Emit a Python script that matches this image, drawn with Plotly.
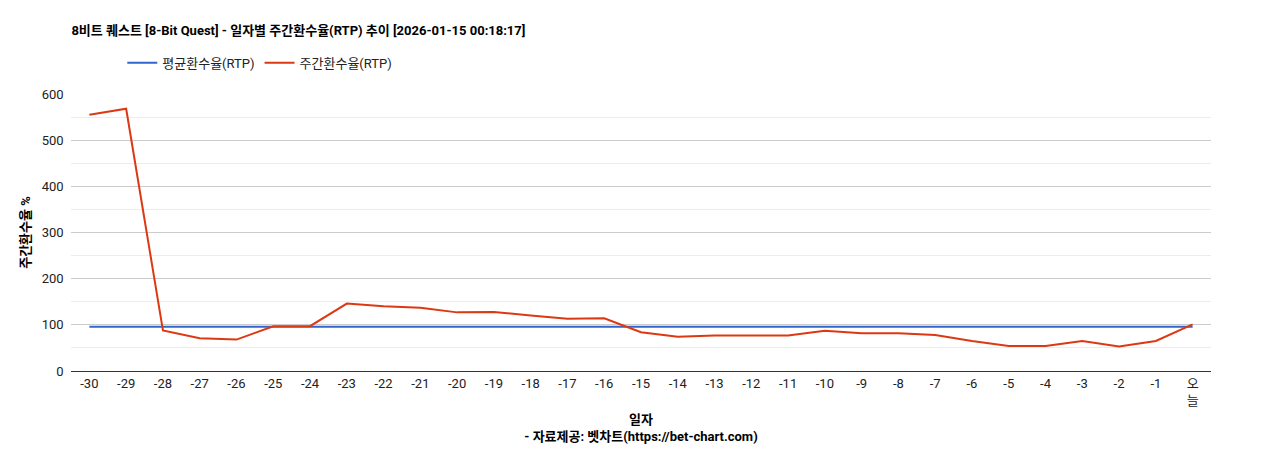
import plotly.graph_objects as go

days = [str(d) for d in range(-30, 0)] + ["오<br>늘"]
weekly_rtp = [555, 568, 88, 71, 68, 97, 97, 146, 140, 137, 127, 128, 120, 113, 114,
              84, 74, 77, 77, 77, 87, 82, 82, 78, 65, 54, 54, 65, 53, 65, 101]
avg_rtp = [96] * len(days)

font = "Roboto, Noto Sans CJK KR"

fig = go.Figure()
fig.add_trace(go.Scatter(x=days, y=avg_rtp, mode="lines", name="평균환수율(RTP)",
                         line=dict(color="#3366cc", width=2)))
fig.add_trace(go.Scatter(x=days, y=weekly_rtp, mode="lines", name="주간환수율(RTP)",
                         line=dict(color="#dc3912", width=2)))

fig.update_layout(
    width=1268, height=450,
    margin=dict(l=63, r=65, t=86, b=87, autoexpand=False),
    plot_bgcolor="white", paper_bgcolor="white",
    font=dict(family=font, size=13, color="#222"),
    title=dict(text="<b>8비트 퀘스트 [8-Bit Quest] - 일자별 주간환수율(RTP) 추이 [2026-01-15 00:18:17]</b>",
               x=0.05, xanchor="left", yref="container", y=0.95, yanchor="middle",
               font=dict(size=13, color="#000")),
    legend=dict(orientation="h", x=0.045, y=0.878, yref="container", xanchor="left", yanchor="middle",
                font=dict(size=13, color="#222")),
    showlegend=True,
)
fig.update_xaxes(type="category", range=[-0.5, 30.5], showgrid=False, showline=True, linecolor="#333",
                 ticks="", tickfont=dict(size=13),
                 title=dict(text="<b>일자</b><br><b>- 자료제공: 벳차트(https://bet-chart.com)</b>",
                            font=dict(size=13, color="#000"), standoff=8))
fig.update_yaxes(range=[0, 600], dtick=100, gridcolor="#cccccc", zeroline=False,
                 minor=dict(dtick=50, showgrid=True, gridcolor="#ececec"),
                 tickfont=dict(size=13), ticksuffix="  ",
                 title=dict(text="<b>주간환수율 %</b>", font=dict(size=13, color="#000"), standoff=8))

fig.write_html("out.html")
